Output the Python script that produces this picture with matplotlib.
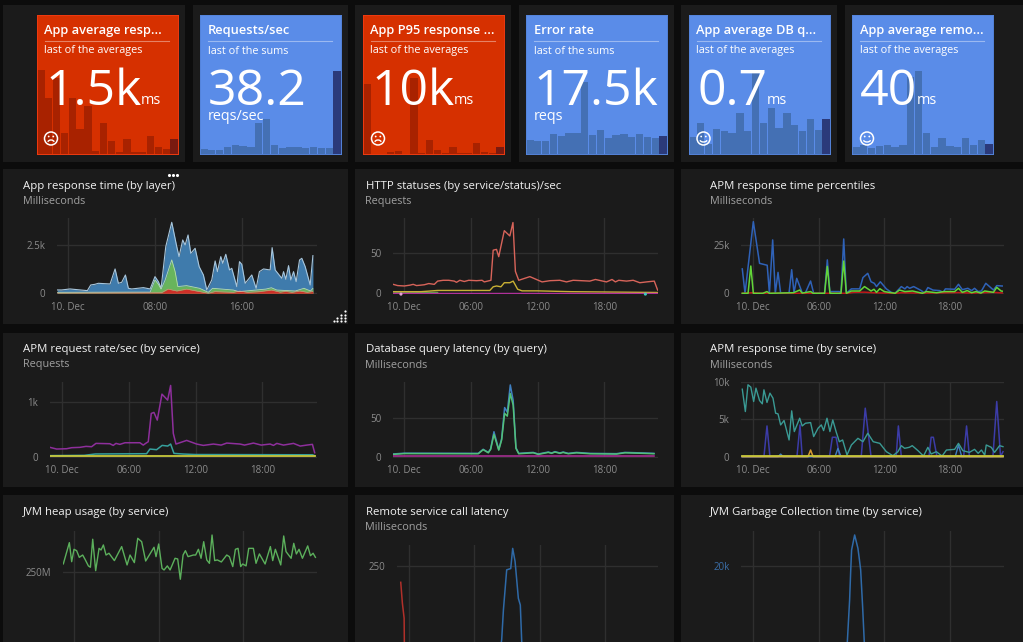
import matplotlib
matplotlib.use("Agg")
import matplotlib.pyplot as plt
from matplotlib.patches import Rectangle, Circle, Arc

plt.rcParams['font.family'] = ['Open Sans', 'DejaVu Sans']

# ---------- tile data ----------
tile_titles = ["App average resp...", "Requests/sec", "App P95 response ...", "Error rate", "App average DB q...", "App average remo..."]
tile_subs = ["last of the averages", "last of the sums", "last of the averages", "last of the sums", "last of the averages", "last of the averages"]
tile_values = ["1.5k", "38.2", "10k", "17.5k", "0.7", "40"]
tile_units = ["ms", "reqs/sec", "ms", "reqs", "ms", "ms"]
tile1_bars = [8570, 5750, 7720, 2110, 5750, 2550, 4900, 340, 3130, 1330, 240, 1560, 240, 240, 1840, 710, 510, 1500]
tile2_bars = [2.3, 2.0, 2.0, 3.4, 4.0, 3.7, 3.4, 14.1, 15.9, 4.3, 2.6, 3.2, 3.2, 2.6, 3.2, 2.6, 2.6, 38.2]
tile3_bars = [104500, 0, 0, 2500, 4500, 0, 113500, 1000, 20500, 6500, 1000, 10500, 1000, 1000, 16500, 2500, 1000, 10000]
tile4_bars = [14190, 12870, 12870, 20130, 17820, 20460, 21120, 71610, 19140, 23760, 16170, 19140, 20130, 16830, 19800, 17160, 15840, 17500]
tile5_bars = [.34, .61, .20, .50, .45, .42, .81, .46, 1.66, .61, .92, .51, .81, .57, .45, .70, .47, .70]
tile6_bars = [27, 35, 23, 31, 36, 26, 34, 299, 323, 83, 27, 62, 31, 26, 62, 34, 55, 40]

# ---------- chart 1: App response time (by layer), stacked totals ----------
c1_total_h = [-0.98, -0.58, 0.18, 1.78, 2.09, 2.48, 2.79, 3.87, 4.33, 4.63, 4.94, 5.28, 5.55, 5.86, 6.93, 7.55, 8.0, 8.31, 8.56, 8.99, 9.54, 10.0, 10.21, 10.55, 10.77, 11.04, 11.29, 11.69, 12.06, 12.45, 12.76, 13.22, 13.53, 13.74, 14.05, 14.23, 14.51, 14.85, 15.06, 15.52, 15.77, 15.98, 16.29, 16.9, 17.3, 17.6, 17.98, 18.59, 18.77, 19.05, 19.66, 19.82, 20.03, 20.28, 20.49, 20.74, 20.98, 21.29, 21.5, 21.81, 22.27, 22.52]
c1_total_v = [174, 174, 226, 139, 434, 469, 521, 486, 1267, 521, 573, 955, 260, 226, 295, 226, 868, 608, 260, 2430, 3698, 2430, 1910, 2778, 2517, 3038, 2083, 2344, 1389, 955, 174, 694, 1684, 1128, 1910, 1562, 2031, 1215, 1302, 347, 1649, 1510, 521, 955, 260, 1128, 1267, 1215, 2378, 1215, 781, 1128, 729, 1441, 694, 1128, 608, 1736, 1823, 1389, 434, 1962]
c1_green_h = [-0.98, 6, 7.55, 8.0, 8.31, 8.56, 8.93, 9.54, 9.85, 10.1, 10.9, 12.1, 12.9, 13.3, 15.2, 15.7, 18.2, 18.7, 19.2, 20.9, 21.7, 22.3, 22.52]
c1_green_v = [50, 60, 60, 700, 470, 220, 690, 1740, 1130, 350, 400, 260, 50, 260, 170, 85, 220, 290, 170, 120, 260, 120, 260]
c1_red_h = [-0.98, 8.6, 9.2, 10, 10.9, 11.8, 12.9, 13.5, 15.2, 15.8, 16.5, 17.5, 18.7, 19.5, 20, 20.6, 21.3, 22, 22.52]
c1_red_v = [10, 30, 220, 120, 220, 120, 5, 85, 50, 120, 50, 80, 170, 60, 100, 50, 120, 50, 100]

# ---------- chart 2: HTTP statuses ----------
c2_red_h = [-1, -0.6, 0, 0.5, 0.8, 1.1, 1.8, 2.2, 2.7, 3, 3.5, 4, 4.5, 4.7, 5, 5.4, 5.8, 6.5, 7, 7.2, 7.5, 7.8, 8.0, 8.3, 8.5, 9.0, 9.5, 9.78, 10.0, 10.3, 11.3, 12.4, 13.1, 14, 14.6, 15.2, 16.7, 17.2, 18.2, 18.7, 19, 19.3, 20, 20.6, 21.2, 21.8, 22.5, 22.8]
c2_red_v = [11, 9.5, 9, 10, 11, 9.5, 10.5, 12, 11, 15, 16, 16, 15, 13.5, 16, 14.5, 16, 15.5, 16, 14, 15, 16, 53, 54, 45, 77, 70.5, 87, 27, 16, 20.5, 14, 15.5, 16, 14, 16, 15, 17, 14, 17, 14, 16, 15, 16, 13, 14, 15, 4]
c2_yellow_h = [-1, 1.5, 3, 7.7, 8, 8.3, 8.7, 9, 9.5, 9.8, 10.2, 10.6, 12, 15, 22.8]
c2_yellow_v = [2, 2, 3.5, 3.5, 8, 9, 8, 13, 13, 15, 5, 3, 3, 2, 1]
c2_green_h = [-1, 3]
c2_green_v = [1.5, 1]
c2_magenta_h = [-1, 22.8]
c2_magenta_v = [0.3, 0.3]
c2_dots_h = [-0.3, 21.7]
c2_dots_v = [-1, -1]

# ---------- chart 3: APM response time percentiles ----------
c3_blue_h = [-0.98, -0.73, 0.03, 0.6, 1.3, 1.5, 1.8, 2.04, 2.29, 2.53, 3.3, 3.54, 3.75, 4.0, 4.5, 4.8, 5.27, 5.55, 6.55, 6.8, 7.04, 7.16, 7.9, 8.05, 8.3, 8.54, 9, 9.76, 10.06, 10.5, 10.8, 11.1, 11.3, 11.65, 12.2, 12.65, 13, 13.57, 13.9, 14.1, 14.33, 14.7, 15.4, 15.7, 16, 16.46, 17.07, 17.4, 17.6, 18.45, 18.8, 19.15, 19.66, 20, 20.27, 20.6, 20.9, 21.3, 22, 22.3, 22.8]
c3_blue_v = [12700, 0, 37300, 15600, 14600, 0, 27800, 0, 10900, 0, 300, 12300, 300, 7800, 300, 300, 6400, 0, 0, 17400, 0, 900, 900, 0, 28300, 0, 2300, 2300, 8200, 10400, 6000, 5200, 3500, 6000, 2300, 500, 0, 3500, 2300, 3500, 2600, 3500, 1400, 0, 3000, 1700, 1400, 500, 2300, 2100, 4700, 1900, 2600, 1400, 2600, 900, 1200, 5200, 1700, 4000, 3800]
c3_green_h = [-0.98, -0.45, -0.2, 0.03, 0.9, 1.28, 1.5, 3.7, 4.27, 4.5, 5.27, 5.5, 6.55, 6.8, 7.04, 8.05, 8.3, 8.54, 9, 9.76, 10.2, 10.8, 11.07, 11.3, 11.6, 12, 13, 13.4, 13.9, 14.6, 15.5, 15.85, 16.8, 17.5, 18.45, 18.8, 19.15, 19.6, 20, 20.4, 20.85, 21.2, 22, 22.3, 22.7, 22.8]
c3_green_v = [0, 0, 14200, 0, 0, 900, 0, 300, 1700, 100, 900, 0, 0, 14000, 0, 0, 16800, 0, 1200, 1200, 3500, 1200, 2100, 500, 2400, 900, 0, 1700, 900, 1200, 0, 900, 300, 900, 900, 2600, 500, 1400, 300, 900, 100, 1200, 500, 3100, 1200, 1100]
c3_red_h = [-0.98, 0, 0.6, 8.6, 9.2, 10.2, 11, 13, 13.6, 15.5, 18.8, 20, 22, 22.8]
c3_red_v = [0, 300, 0, 0, 500, 600, 300, 0, 300, 100, 400, 100, 500, 200]

# ---------- chart 4: APM request rate ----------
c4_purple_h = [-1.08, -0.48, 0.42, 0.87, 1.6, 2.16, 2.66, 3.05, 4.3, 4.6, 4.85, 5.2, 5.66, 7, 7.3, 7.6, 7.75, 8.02, 8.26, 8.56, 8.98, 9.49, 9.76, 10, 10.24, 11.2, 12.1, 12.7, 13.6, 14.3, 14.8, 16, 16.4, 17.2, 17.9, 18.7, 19, 19.3, 19.9, 20.8, 21.4, 22, 22.5, 22.7]
c4_purple_v = [172, 141, 147, 166, 172, 190, 184, 245, 239, 208, 245, 227, 257, 257, 214, 257, 276, 797, 815, 674, 1152, 1042, 1312, 429, 233, 300, 233, 208, 233, 214, 251, 233, 214, 251, 214, 233, 208, 245, 214, 245, 196, 214, 227, 74]
c4_teal_h = [-1.08, 2, 3, 7.6, 7.9, 8.5, 9, 9.5, 9.76, 10.06, 10.9, 12, 22.5, 22.7]
c4_teal_v = [20, 25, 50, 55, 141, 129, 208, 196, 233, 61, 49, 40, 35, 20]
c4_yellow_h = [-1.08, 22.7]
c4_yellow_v = [12, 12]

# ---------- chart 5: Database query latency ----------
c5_h = [-1, 0, 6.66, 7.1, 7.56, 7.77, 8.07, 8.5, 8.76, 9.03, 9.27, 9.54, 9.8, 10.05, 10.3, 11.6, 12.06, 12.96, 13.26, 13.56, 14, 14.3, 14.76, 15.5, 16.7, 19.1, 19.86, 21.5, 22.47]
c5_green_v = [3, 4, 3.8, 9, 5, 9.4, 28.6, 8.5, 21.4, 55.5, 52, 81, 66, 10.7, 3.8, 5, 3, 5.5, 4.3, 6, 4.3, 5.5, 3.8, 5, 3.8, 3.4, 5, 4.3, 3.8]
c5_blue_v = [3.5, 4.5, 4.3, 9.5, 5.5, 10, 32, 9, 23, 63, 57, 92, 72, 11.5, 4.3, 5.5, 3.5, 6, 4.8, 6.5, 4.8, 6, 4.3, 5.5, 4.3, 3.9, 5.5, 4.8, 4.3]
c5_magenta_h = [-1, 22.47]
c5_magenta_v = [0.5, 0.5]

# ---------- chart 6: APM response time (by service) ----------
c6_teal_h = [-0.98, -0.7, -0.46, -0.2, 0.06, 0.27, 0.6, 0.85, 1, 1.28, 1.55, 1.83, 2.07, 2.29, 2.53, 2.84, 3.3, 3.54, 3.78, 4.27, 4.5, 4.8, 5.27, 5.55, 5.95, 6.25, 6.46, 6.77, 7.04, 7.3, 7.6, 7.9, 8.2, 8.6, 9, 9.6, 10.06, 10.5, 11, 11.6, 12.2, 12.8, 13.26, 13.57, 13.87, 14.3, 14.57, 15.1, 15.6, 16, 16.3, 16.77, 17.3, 17.7, 18.45, 18.8, 19.2, 19.8, 20.27, 20.6, 20.9, 21.2, 21.34, 21.8, 22.1, 22.56, 22.87]
c6_teal_v = [9000, 6020, 9590, 9280, 7360, 9140, 7490, 7050, 8920, 7230, 8470, 7800, 5800, 5710, 4240, 4820, 2230, 6110, 3350, 5130, 4100, 4460, 4550, 2680, 3790, 4240, 3480, 5130, 3350, 4900, 3350, 2000, 2230, 220, 1560, 2450, 2000, 3120, 2000, 1780, 670, 130, 670, 1470, 1120, 1250, 1470, 800, 90, 1250, 360, 670, 90, 890, 980, 1780, 800, 580, 980, 450, 890, 220, 1560, 1250, 580, 1470, 1340]
c6_indigo_h = [-0.98, 1, 1.28, 1.55, 4.02, 4.3, 4.5, 7, 7.26, 7.6, 7.93, 9.9, 10.27, 10.8, 13.1, 13.3, 13.57, 16.1, 16.3, 16.5, 16.83, 19.27, 19.54, 19.8, 21.95, 22.3, 22.65, 22.87]
c6_indigo_v = [0, 0, 4100, 0, 0, 4240, 0, 0, 2590, 2590, 0, 0, 6470, 0, 0, 4100, 0, 0, 2590, 2590, 0, 0, 4100, 0, 0, 7360, 0, 670]
c6_blue_h = [-0.98, 2.3, 2.53, 2.76, 7.5, 7.77, 8.05, 18.5, 18.8, 19.1, 22.87]
c6_blue_v = [0, 0, 350, 0, 0, 1100, 0, 0, 1560, 0, 0]
c6_orange_h = [-0.98, 5.03, 5.27, 5.5, 22.87]
c6_orange_v = [0, 0, 890, 0, 0]
c6_yellow_h = [-0.98, 22.87]
c6_yellow_v = [30, 30]

# ---------- chart 7: JVM heap usage ----------
c7_h = [-1.01, -0.44, -0.22, 0, .25, .5, .82, 1.04, 1.36, 1.55, 1.77, 2.05, 2.37, 2.56, 2.78, 3.03, 3.31, 3.82, 4.51, 5.02, 5.3, 5.71, 6.03, 6.4, 6.78, 7.57, 7.76, 8.01, 8.33, 8.52, 8.83, 9.09, 9.56, 9.81, 10.06, 10.32, 10.54, 10.79, 11.29, 11.51, 11.77, 12.02, 12.27, 12.56, 12.81, 13.06, 13.31, 13.56, 13.94, 14.45, 14.7, 15.02, 15.27, 15.52, 15.77, 15.96, 16.28, 16.53, 16.97, 17.22, 17.54, 18.08, 18.58, 18.8, 19.05, 19.56, 19.84, 20.06, 20.54, 20.79, 21.04, 21.29, 21.61, 22.11, 22.37, 22.62, 22.84]
c7_v = [312, 468, 328, 419, 409, 360, 377, 346, 297, 287, 493, 262, 426, 414, 451, 377, 390, 336, 439, 304, 377, 321, 500, 475, 333, 434, 365, 458, 279, 267, 297, 267, 353, 348, 199, 377, 409, 365, 377, 377, 419, 353, 475, 341, 316, 524, 336, 341, 326, 377, 365, 292, 419, 426, 292, 311, 297, 426, 426, 316, 385, 311, 439, 336, 419, 304, 517, 402, 353, 463, 385, 419, 353, 444, 372, 390, 360]

# ---------- chart 8: Remote service call latency ----------
c8_blue_h = [8.45, 8.53, 8.69, 8.99, 9.36, 9.54, 9.76, 10.06, 10.24, 10.37, 10.4]
c8_blue_v = [0, 19, 113, 238, 242, 305, 264, 149, 128, 13, 0]
c8_red_h = [-0.73, -0.58, -0.42, -0.4, -0.38]
c8_red_v = [199, 134, 87, 13, 0]

# ---------- chart 9: JVM Garbage Collection time ----------
c9_h = [8.58, 8.63, 8.84, 8.93, 9.02, 9.3, 9.6, 9.72, 9.85, 10.03, 10.18, 10.25]
c9_v = [0, 1100, 11590, 18250, 24080, 27830, 24500, 22000, 19080, 9900, 1100, 0]

W, H = 1023, 642
fig = plt.figure(figsize=(W / 100, H / 100), dpi=100, facecolor='#0c0c0c')
PANEL = '#1b1b1b'
GRID = '#2f2f2f'
TICK = '#8c8c8c'

bg = fig.add_axes([0, 0, 1, 1], zorder=0)
bg.set_xlim(0, W); bg.set_ylim(H, 0); bg.axis('off')
top_panels = [(3, 185), (193, 348), (355, 511), (519, 674), (681, 837), (845, 1023)]
for l, r in top_panels:
    bg.add_patch(Rectangle((l, 5), r - l, 157, fc=PANEL, ec='none'))
cols = [(3, 348), (355, 674), (681, 1023)]
rows = [(169, 324), (333, 487), (495, 642)]
for l, r in cols:
    for t, b in rows:
        bg.add_patch(Rectangle((l, t), r - l, b - t, fc=PANEL, ec='none'))

fg = fig.add_axes([0, 0, 1, 1], zorder=5)
fg.set_xlim(0, W); fg.set_ylim(H, 0); fg.axis('off'); fg.patch.set_alpha(0)


def tile(left, bars, scale, red):
    top, bottom, width = 15, 154, 141
    ax = fig.add_axes([left / W, 1 - bottom / H, width / W, (bottom - top) / H], zorder=2)
    ax.set_facecolor('#d63000' if red else '#5a8ce8')
    ax.set_xticks([]); ax.set_yticks([])
    for s in ax.spines.values():
        s.set_color('#f03a10' if red else '#5484dc'); s.set_linewidth(0.7)
    ax.set_xlim(-0.5, len(bars) - 0.5)
    ax.set_ylim(0, 417 * scale)
    xs = list(range(len(bars)))
    base = '#a82200' if red else '#4470b4'
    last = '#7a1a10' if red else '#2b3a7a'
    cs = [base] * (len(bars) - 1) + [last]
    ax.bar(xs, bars, width=0.94, color=cs, linewidth=0)
    return ax


tile_cfg = [(37, tile1_bars, 34, True), (200, tile2_bars, 0.153, False), (363, tile3_bars, 500, True),
            (526, tile4_bars, 330, False), (689, tile5_bars, 0.0066, False), (852, tile6_bars, 1.29, False)]
unit_x = [141, 208, 454, 534, 767, 917]
unit_y = [100, 117, 100, 117, 100, 100]
unit_size = [10.4, 10.4, 10.4, 10.4, 10.4, 10.4]
for i, (left, bars, scale, red) in enumerate(tile_cfg):
    tile(left, bars, scale, red)
    tx = left + 7.5
    fg.text(tx, 30.5, tile_titles[i], color='white', fontsize=9.3, fontweight='semibold', va='center', ha='left')
    fg.plot([tx, left + 132], [41, 41], color='white', alpha=0.4, lw=0.8)
    fg.text(tx, 51, tile_subs[i], color='white', fontsize=7.8, va='center', ha='left')
    fg.text(left + 8, 105, tile_values[i], color='white', fontsize=36, fontweight='normal', va='baseline', ha='left')
    fg.text(unit_x[i], unit_y[i], tile_units[i], color='white', fontsize=unit_size[i], va='center', ha='left')

# face icons
for cx, happy in [(51, False), (378, False), (703.5, True), (867, True)]:
    fg.add_patch(Circle((cx, 138.5), 6.5, fc='none', ec='white', lw=1.1))
    fg.add_patch(Circle((cx - 2.3, 136.5), 0.9, fc='white', ec='none'))
    fg.add_patch(Circle((cx + 2.3, 136.5), 0.9, fc='white', ec='none'))
    if happy:
        fg.add_patch(Arc((cx, 139), 8, 6, theta1=20, theta2=160, ec='white', lw=1.0))
    else:
        fg.add_patch(Arc((cx, 143), 7, 6, theta1=200, theta2=340, ec='white', lw=1.0))
# panel menu dots and resize grip
fg.scatter([168.5, 172.5, 176.5], [175, 175, 175], s=5, c='white', linewidths=0)
grip_x = [345, 345, 345, 345, 341, 341, 341, 337, 337, 334]
grip_y = [311, 314.5, 318, 321, 314.5, 318, 321, 318, 321, 321]
fg.scatter(grip_x, grip_y, s=2.5, c='white', linewidths=0)


def chart(left, right, top, bottom, h0, pph, y0, ppu, xticks, xlabels, yticks, ylabels, title, sub, title_x, title_y, ycolor=TICK):
    ax = fig.add_axes([left / W, 1 - bottom / H, (right - left) / W, (bottom - top) / H], zorder=2)
    ax.patch.set_alpha(0)
    ax.set_xlim((left - h0) / pph, (right - h0) / pph)
    ax.set_ylim((y0 - bottom) / ppu, (y0 - top) / ppu)
    for s in ax.spines.values():
        s.set_visible(False)
    ax.set_xticks(xticks); ax.set_xticklabels(xlabels)
    ax.set_yticks(yticks); ax.set_yticklabels(ylabels)
    ax.tick_params(axis='both', length=0, labelsize=7)
    ax.tick_params(axis='x', pad=5.5, labelcolor=TICK)
    ax.tick_params(axis='y', pad=8.5, labelcolor=ycolor)
    ax.grid(True, color=GRID, lw=1)
    ax.set_axisbelow(True)
    fg.text(title_x, title_y + 1, title, color='#f2f2f2', fontsize=8.2, va='center', ha='left')
    if sub:
        fg.text(title_x, title_y + 16.5, sub, color='#a0a0a0', fontsize=7.8, va='center', ha='left')
    return ax


lab24 = ["10. Dec", "06:00", "12:00", "18:00"]
h24 = [0, 6, 12, 18]

a = chart(57, 317, 218, 294, 68, 10.875, 293.3, 48 / 2500, [0, 8, 16], ["10. Dec", "08:00", "16:00"], [0, 2500], ["0", "2.5k"],
          "App response time (by layer)", "Milliseconds", 23, 185)
a.fill_between(c1_total_h, c1_total_v, color='#3f7bac', lw=0)
a.plot(c1_total_h, c1_total_v, color='#a8c6dc', lw=0.8)
a.fill_between(c1_green_h, c1_green_v, color='#68b45c', lw=0)
a.plot(c1_green_h, c1_green_v, color='#b6dcae', lw=0.6)
a.fill_between(c1_red_h, c1_red_v, color='#cf2f28', lw=0)
a.plot(c1_red_h, c1_red_v, color='#e88a80', lw=0.4)

a = chart(393.3, 658, 218.3, 294, 404.3, 11.11, 293.3, 40.67 / 50, h24, lab24, [0, 50], ["0", "50"],
          "HTTP statuses (by service/status)/sec", "Requests", 365.5, 185)
a.plot(c2_red_h, c2_red_v, color='#d8645a', lw=1)
a.plot(c2_green_h, c2_green_v, color='#5aa84a', lw=1)
a.plot(c2_yellow_h, c2_yellow_v, color='#c9b034', lw=1)
a.plot(c2_magenta_h, c2_magenta_v, color='#b0309a', lw=1)
a.scatter(c2_dots_h, c2_dots_v, s=5, c=['#e8a0d8', '#40c8c0'], clip_on=False, linewidths=0, zorder=4)

a = chart(741.3, 1003.7, 218.3, 294, 753, 10.93, 293.3, 48 / 25000, h24, lab24, [0, 25000], ["0", "25k"],
          "APM response time percentiles", "Milliseconds", 710, 185)
a.plot(c3_blue_h, c3_blue_v, color='#2f62b8', lw=1.1)
a.plot(c3_red_h, c3_red_v, color='#c01818', lw=1.1)
a.plot(c3_green_h, c3_green_v, color='#62d638', lw=1.1)

a = chart(50, 317, 381.7, 457.7, 62, 11.13, 456.7, 54.3 / 1000, h24, lab24, [0, 1000], ["0", "1k"],
          "APM request rate/sec (by service)", "Requests", 23, 348.5)
a.plot(c4_purple_h, c4_purple_v, color='#8e2f9c', lw=1.1)
a.plot(c4_teal_h, c4_teal_v, color='#36a09c', lw=1.1)
a.plot(c4_yellow_h, c4_yellow_v, color='#c8c83c', lw=1.3)

a = chart(393.3, 658, 381.7, 457.7, 404.3, 11.11, 456.7, 39 / 50, h24, lab24, [0, 50], ["0", "50"],
          "Database query latency (by query)", "Milliseconds", 365.5, 348.5)
a.plot(c5_h, c5_blue_v, color='#3f7fc0', lw=1.1)
a.plot(c5_h, c5_green_v, color='#52c078', lw=1.1)
a.plot(c5_magenta_h, c5_magenta_v, color='#b0309a', lw=1.1)

a = chart(741.3, 1003.7, 381.7, 457.7, 753, 10.93, 456.7, 0.0075, h24, lab24, [0, 5000, 10000], ["0", "5k", "10k"],
          "APM response time (by service)", "Milliseconds", 710, 348.5)
a.plot(c6_indigo_h, c6_indigo_v, color='#3c3ca8', lw=1.1)
a.plot(c6_blue_h, c6_blue_v, color='#3f7fc0', lw=1)
a.plot(c6_teal_h, c6_teal_v, color='#3a9a94', lw=1)
a.plot(c6_orange_h, c6_orange_v, color='#d89a30', lw=1.1)
a.plot(c6_yellow_h, c6_yellow_v, color='#c8c83c', lw=1.3)

a = chart(62.7, 317, 530.7, 642, 74, 10.57, 572.3 + 250 / 7.35, 1 / 7.35, [0, 8, 16], ["", "", ""], [250], ["250M"],
          "JVM heap usage (by service)", None, 23, 511)
a.plot(c7_h, c7_v, color='#5cb05c', lw=1)

a = chart(396.7, 658, 545, 642, 408.7, 10.9, 646, 0.32, h24, ["", "", "", ""], [250], ["250"],
          "Remote service call latency", "Milliseconds", 365.5, 511)
a.plot(c8_blue_h, c8_blue_v, color='#2f6aa8', lw=1.1)
a.plot(c8_red_h, c8_red_v, color='#b0302a', lw=1.1)

a = chart(741.3, 1003.7, 530.7, 642, 753, 10.93, 646.3, 0.004, h24, ["", "", "", ""], [20000], ["20k"],
          "JVM Garbage Collection time (by service)", None, 710, 511, ycolor='#3a6ea8')
a.plot(c9_h, c9_v, color='#2f6aa8', lw=1.1)

fig.savefig("out.png", dpi=100, facecolor=fig.get_facecolor())
